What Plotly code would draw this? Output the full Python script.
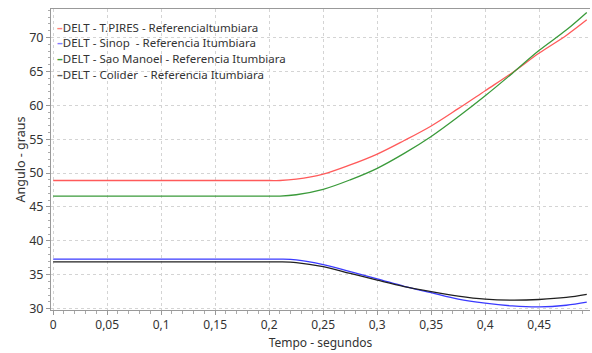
import plotly.graph_objects as go

# Time axis (seconds)
tempo = [0, 0.05, 0.1, 0.15, 0.2, 0.21, 0.225, 0.25, 0.275, 0.3, 0.325,
         0.35, 0.375, 0.4, 0.425, 0.45, 0.475, 0.494]

# Angle differences (degrees) relative to Itumbiara
delt_tpires = [48.9, 48.9, 48.9, 48.9, 48.9, 48.9, 49.1, 49.85, 51.2, 52.8, 54.8,
               56.95, 59.5, 62.15, 64.8, 67.7, 70.3, 72.6]
delt_sinop = [37.3, 37.3, 37.3, 37.3, 37.3, 37.3, 37.2, 36.5, 35.45, 34.4, 33.3,
              32.35, 31.4, 30.8, 30.4, 30.25, 30.5, 30.95]
delt_saomanoel = [46.6, 46.6, 46.6, 46.6, 46.6, 46.6, 46.8, 47.6, 49.0, 50.7, 52.9,
                  55.4, 58.3, 61.4, 64.7, 68.1, 71.1, 73.7]
delt_colider = [36.9, 36.9, 36.9, 36.9, 36.9, 36.9, 36.8, 36.2, 35.2, 34.2, 33.25,
                32.5, 31.85, 31.4, 31.25, 31.35, 31.65, 32.1]

nomes = [
    "DELT - T.PIRES - Referencialtumbiara",
    "DELT - Sinop  - Referencia Itumbiara",
    "DELT - Sao Manoel - Referencia Itumbiara",
    "DELT - Colider  - Referencia Itumbiara",
]
series = [delt_tpires, delt_sinop, delt_saomanoel, delt_colider]
cores = ["#ff5a5a", "#3a3aff", "#3a9a3a", "#202020"]
cores_legenda = ["#ff8080", "#8080ff", "#3a9a3a", "#606060"]

FONT = "Noto Sans"
TXT = "#333333"

fig = go.Figure()
for nome, ys, cor in zip(nomes, series, cores):
    fig.add_trace(go.Scatter(
        x=tempo, y=ys, name=nome, mode="lines",
        line=dict(color=cor, width=1.3, shape="spline", smoothing=1.0),
        showlegend=False,
    ))

# Compact legend in the upper-left corner, short swatch before each name
for i, (nome, cor) in enumerate(zip(nomes, cores_legenda)):
    fig.add_annotation(
        xref="paper", yref="paper", x=0.008, y=0.94 - i * 0.052,
        xanchor="left", yanchor="middle", showarrow=False,
        text=f"<span style='color:{cor}'><b>\u2013</b></span>{nome}",
        font=dict(family=FONT, size=11.5, color=TXT),
    )

grid = dict(showgrid=True, gridcolor="#d4d4d4", griddash="dot", gridwidth=1)

fig.update_layout(
    width=592, height=353,
    margin=dict(l=51, r=2, t=9, b=43),
    paper_bgcolor="white", plot_bgcolor="white",
    separators=", ",
    font=dict(family=FONT, size=12, color=TXT),
    xaxis=dict(
        range=[-0.002, 0.497], dtick=0.05, tick0=0,
        showline=True, linecolor="#999999", linewidth=1, mirror=True,
        ticks="outside", ticklen=4, tickcolor="#999999",
        minor=dict(dtick=0.01, ticks="outside", ticklen=3, tickcolor="#aaaaaa", showgrid=False),
        zeroline=False,
        tickfont=dict(family=FONT, size=12, color=TXT),
        title=dict(text="Tempo - segundos", standoff=6,
                   font=dict(family=FONT, size=12, color=TXT)),
        **grid,
    ),
    yaxis=dict(
        range=[29.8, 74.2], dtick=5, tick0=0,
        showline=True, linecolor="#999999", linewidth=1,
        ticks="outside", ticklen=4, tickcolor="#999999",
        minor=dict(dtick=1, ticks="outside", ticklen=2, tickcolor="#aaaaaa", showgrid=False),
        zeroline=False,
        tickfont=dict(family=FONT, size=12.5, color=TXT),
        title=dict(text="Angulo - graus", standoff=0,
                   font=dict(family=FONT, size=12.5, color=TXT)),
        **grid,
    ),
)

fig.write_html("out.html")
